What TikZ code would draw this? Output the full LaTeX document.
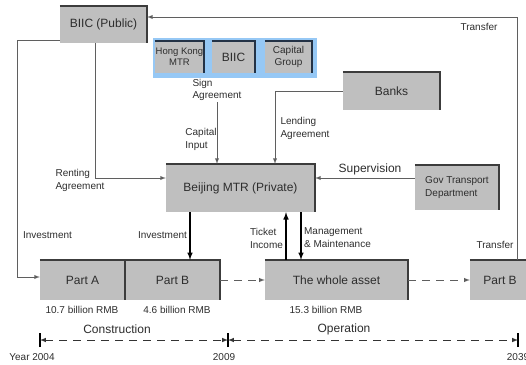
\documentclass[tikz,border=0pt]{standalone}
\usepackage{fontspec}
\setmainfont{Liberation Sans}
\usetikzlibrary{arrows,shapes}
\definecolor{boxgray}{RGB}{191,191,191}
\definecolor{rimgray}{RGB}{60,60,60}
\definecolor{rimnavy}{RGB}{35,50,70}
\definecolor{groupblue}{RGB}{150,200,245}
\definecolor{linegray}{RGB}{95,95,95}
\definecolor{textgray}{RGB}{45,45,45}
\tikzstyle{box}=[rectangle,fill=boxgray,inner sep=1pt,align=center,text=textgray,font=\fontsize{12}{14}\selectfont]
\tikzstyle{note}=[inner sep=1pt,align=left,text=textgray,font=\fontsize{10}{12.5}\selectfont]
\tikzstyle{bignote}=[note,font=\fontsize{12}{14}\selectfont]
\tikzstyle{link}=[draw,linegray,line width=0.9pt,-latex]
\tikzstyle{boldlink}=[draw,black,line width=1.5pt,-latex]
\tikzstyle{dashlink}=[draw,linegray,line width=1pt,dash pattern=on 8pt off 6pt,-latex]
\tikzstyle{rim}=[draw,rimgray,line width=2pt]

\begin{document}
\begin{tikzpicture}[x=1pt,y=-1pt]
    \useasboundingbox (0,0) rectangle (526,364);
    % The grey boxes first
    \foreach \pos/\name/\w/\h/\txt in {{(103.5,24.5)/pub/87/37/BIIC (Public)},
        {(240.5,188)/mtr/149/48/Beijing MTR (Private)}, {(391.5,91)/banks/97/38/Banks},
        {(82.5,280)/parta/85/40/Part A}, {(172.5,280)/partb/95/40/Part B},
        {(336.5,280)/whole/143/40/The whole asset}, {(500,280)/partb2/60/40/Part B}}
        \node[box,minimum width=\w pt,minimum height=\h pt] (\name) at \pos {\txt};
    \node[box,align=left,minimum width=84pt,minimum height=45pt,font=\fontsize{10}{12.5}\selectfont] (gov) at (457,187.5) {Gov Transport\\Department};
    % The partners of the joint venture
    \node[fill=groupblue,minimum width=164pt,minimum height=40pt] (grp) at (235,58) {};
    \node[box,minimum width=47pt,minimum height=32pt,font=\fontsize{9.5}{11}\selectfont] (hk) at (179.5,57) {Hong Kong\\MTR};
    \node[box,minimum width=43pt,minimum height=32pt] (biic) at (233.5,57) {BIIC};
    \node[box,minimum width=47pt,minimum height=32pt,font=\fontsize{10}{12.5}\selectfont] (cap) at (288.5,57) {Capital\\Group};
    % Dark top and right edges
    \foreach \name in {pub,mtr,banks,gov,parta,partb,whole,partb2}
        \draw[rim] (\name.north west) -- (\name.north east) -- (\name.south east);
    \foreach \name in {hk,biic,cap}
        \draw[rim,rimnavy] (\name.north west) -- (\name.north east) -- (\name.south east);

    % Connectors
    \coordinate (invtop) at (17,40);
    \coordinate (invbot) at (17,277);
    \path[link] (pub.west |- invtop) -- (invtop) -- (invbot) -- (invbot -| parta.west);
    \coordinate (rent) at (95,178);
    \path[link] (rent |- pub.south) -- (rent) -- (rent -| mtr.west);
    \node[note] (sign) at (217,90) {Sign\\Agreement};
    \path[link] (sign.south) -- (sign.south |- mtr.north);
    \coordinate (lend) at (275,91);
    \path[link] (banks.west) -- (lend) -- (lend |- mtr.north);
    \coordinate (supv) at (360,178);
    \path[link] (gov.west |- supv) -- (mtr.east |- supv);
    \coordinate (inv) at (190,236);
    \path[boldlink] (inv |- mtr.south) -- (inv |- partb.north);
    \coordinate (tick) at (286,236);
    \path[boldlink] (tick |- whole.north) -- (tick |- mtr.south);
    \coordinate (mgmt) at (301,236);
    \path[boldlink] (mgmt |- mtr.south) -- (mgmt |- whole.north);
    \path[dashlink] (partb.east) -- (whole.west);
    \path[dashlink] (whole.east) -- (partb2.west);
    \coordinate (trn) at (517,17);
    \path[link] (trn |- partb2.north) -- (trn) -- (trn -| pub.east);

    % Labels
    \node[note] (capin) at (201,139.5) {Capital\\Input};
    \node[note] (rentxt) at (80,180.5) {Renting\\Agreement};
    \node[note] (lendtxt) at (305,128.5) {Lending\\Agreement};
    \node[bignote] (suptxt) at (370,169) {Supervision};
    \node[note] (invtxt1) at (47.5,235) {Investment};
    \node[note] (invtxt2) at (162.5,235) {Investment};
    \node[note] (ticktxt) at (266.5,238.5) {Ticket\\Income};
    \node[note] (mgmttxt) at (337.5,237.5) {Management\\\& Maintenance};
    \node[note] (trtxt1) at (479,27) {Transfer};
    \node[note] (trtxt2) at (495,245) {Transfer};
    \node[note] (vala) at (82,310) {10.7 billion RMB};
    \node[note] (valb) at (177,310) {4.6 billion RMB};
    \node[note] (valw) at (326,310) {15.3 billion RMB};

    % Time line
    \foreach \name/\x in {t04/40, t09/228, t39/518}
        \coordinate (\name) at (\x,340);
    \foreach \name in {t04,t09,t39}
        \draw[black,line width=1.2pt] ([yshift=-7pt]\name) -- ([yshift=7pt]\name);
    \path[dashlink,black!80,latex-latex] (t04) -- (t09);
    \path[dashlink,black!80,latex-latex] (t09) -- (t39);
    \node[bignote] (constr) at (117,329) {Construction};
    \node[bignote] (oper) at (344,329) {Operation};
    \node[note] (y04) at (32,357) {Year 2004};
    \node[note] (y09) at (224,357) {2009};
    \node[note] (y39) at (518,357) {2039};
\end{tikzpicture}
\end{document}
